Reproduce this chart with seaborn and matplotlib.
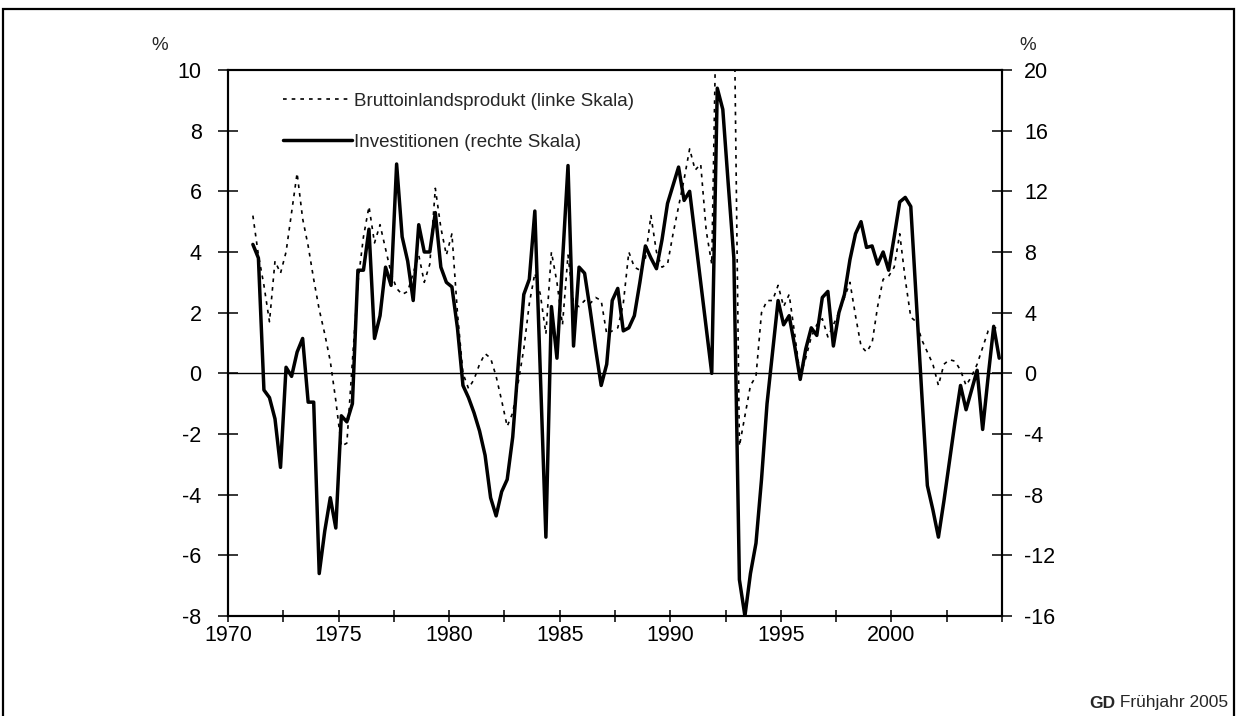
import matplotlib
matplotlib.use("Agg")
import matplotlib.pyplot as plt
from matplotlib.patches import Rectangle
from matplotlib.lines import Line2D
import numpy as np
import pandas as pd
import seaborn as sns

# quarterly year-on-year rates, 1971Q1 .. 2004Q4
first_year = 1971

# Bruttoinlandsprodukt (left scale, %); 1992 values run off the top of the scale
bip = [5.2, 3.9, 2.9, 1.7, 3.7, 3.3, 4.0, 5.3, 6.6, 5.1, 4.2, 3.1,
       2.1, 1.3, 0.4, -0.9, -2.4, -2.3, 0.4, 3.0, 4.5, 5.5, 4.3, 4.9,
       4.1, 3.3, 2.8, 2.6, 2.7, 3.3, 3.9, 3.0, 3.6, 6.1, 4.8, 3.9,
       4.6, 2.0, 0.0, -0.5, -0.2, 0.3, 0.65, 0.5, -0.1, -0.9, -1.75, -1.3,
       -0.3, 0.8, 2.3, 3.3, 2.6, 1.3, 4.0, 3.0, 1.6, 3.9, 2.3, 2.2,
       2.4, 2.3, 2.5, 2.4, 1.3, 1.4, 1.5, 2.3, 4.0, 3.5, 3.4, 3.8,
       5.2, 4.0, 3.5, 3.6, 4.6, 5.5, 6.4, 7.4, 6.7, 6.9, 4.7, 3.6,
       14.0, 15.0, 14.0, 13.0, -2.4, -1.4, -0.4, -0.1, 2.0, 2.4, 2.4, 2.9,
       2.2, 2.6, 1.3, -0.1, 0.5, 1.2, 1.6, 1.8, 1.2, 1.6, 2.0, 2.5,
       3.0, 1.9, 0.9, 0.7, 1.0, 2.2, 3.1, 3.2, 3.5, 4.6, 3.1, 1.85,
       1.7, 1.1, 0.7, 0.3, -0.4, 0.3, 0.45, 0.4, 0.1, -0.4, -0.1, 0.3,
       0.85, 1.4, 1.5, 1.5]

# Investitionen (right scale, %)
investitionen = [8.5, 7.6, -1.1, -1.6, -3.0, -6.2, 0.4, -0.2, 1.4, 2.3, -1.9, -1.9,
                 -13.2, -10.4, -8.2, -10.2, -2.8, -3.2, -2.0, 6.8, 6.8, 9.5, 2.3, 3.8,
                 7.0, 5.8, 13.8, 9.0, 7.4, 4.8, 9.8, 8.0, 8.0, 10.6, 7.0, 6.0,
                 5.7, 3.0, -0.8, -1.6, -2.6, -3.8, -5.4, -8.2, -9.4, -7.8, -7.0, -4.2,
                 0.6, 5.2, 6.2, 10.7, 0.0, -10.8, 4.4, 1.0, 7.4, 13.7, 1.8, 7.0,
                 6.6, 4.2, 1.6, -0.8, 0.6, 4.8, 5.6, 2.8, 3.0, 3.8, 6.0, 8.4,
                 7.6, 6.9, 8.8, 11.2, 12.4, 13.6, 11.4, 12.0, 9.0, 6.0, 3.0, 0.0,
                 18.8, 17.4, 12.4, 7.6, -13.6, -16.0, -13.2, -11.2, -7.0, -2.0, 1.4, 4.8,
                 3.2, 3.8, 1.8, -0.4, 1.6, 3.0, 2.5, 5.0, 5.4, 1.8, 4.0, 5.2,
                 7.5, 9.2, 10.0, 8.3, 8.4, 7.2, 8.0, 6.8, 9.0, 11.3, 11.6, 11.0,
                 4.8, -1.4, -7.4, -9.0, -10.8, -8.4, -5.8, -3.2, -0.8, -2.4, -1.1, 0.2,
                 -3.7, -0.2, 3.1, 1.0]

x_ticks = np.arange(1970, 2005.1, 2.5)
x_labels = [str(int(t)) if t % 5 == 0 and t < 2005 else "" for t in x_ticks]
left_ticks = np.arange(-8, 10.1, 2)
right_ticks = np.arange(-16, 20.1, 4)

df = pd.DataFrame({
    "t": first_year + 0.125 + np.arange(len(bip)) / 4,
    "bip": bip,
    "inv": investitionen,
})

sns.set_style("white")
plt.rcParams["font.family"] = ["Liberation Sans", "DejaVu Sans"]
plt.rcParams["axes.unicode_minus"] = False

fig = plt.figure(figsize=(12.36, 7.16), dpi=100)
ax = fig.add_axes([228 / 1236, 1 - 616 / 716, 774 / 1236, 546 / 716])
ax2 = ax.twinx()

ax.axhline(0, color="black", lw=1.0, zorder=1)

sns.lineplot(data=df, x="t", y="bip", ax=ax, color="black", lw=1.2,
             linestyle=(0, (2.2, 3.0)), zorder=3)
sns.lineplot(data=df, x="t", y="inv", ax=ax2, color="black", lw=2.5, zorder=3)

ax.set_xlim(1970, 2005)
ax.set_ylim(-8, 10)
ax2.set_ylim(-16, 20)

ax.set_xticks(x_ticks)
ax.set_xticklabels(x_labels)
ax.set_yticks(left_ticks)
ax.set_yticklabels([f"{v:g}" for v in left_ticks])
ax2.set_yticks(right_ticks)
ax2.set_yticklabels([f"{v:g}" for v in right_ticks])

ax.set_xlabel("")
ax.set_ylabel("")
ax2.set_ylabel("")

for a in (ax, ax2):
    for s in a.spines.values():
        s.set_visible(True)
        s.set_color("black")
        s.set_linewidth(1.5)

ax.tick_params(axis="y", direction="inout", length=14, width=1.1, labelsize=15.5,
               pad=12, left=True, colors="black")
ax.tick_params(axis="x", direction="inout", length=9, width=1.1, labelsize=15.5,
               pad=2, bottom=True, colors="black")
ax2.tick_params(axis="y", direction="inout", length=14, width=1.1, labelsize=15.5,
                pad=9, right=True, colors="black")

handles = [
    Line2D([], [], color="black", lw=1.2, linestyle=(0, (2.2, 3.0))),
    Line2D([], [], color="black", lw=2.5),
]
ax2.legend(handles, ["Bruttoinlandsprodukt (linke Skala)", "Investitionen (rechte Skala)"],
           loc="upper left", bbox_to_anchor=(0.071, 0.958), frameon=False,
           fontsize=13.5, handlelength=3.7, handletextpad=0.1,
           labelspacing=1.25, borderpad=0, borderaxespad=0)

fig.text(160 / 1236, 1 - 45 / 716, "%", fontsize=13.5, ha="center", va="center")
fig.text(1028 / 1236, 1 - 45 / 716, "%", fontsize=13.5, ha="center", va="center")

# outer frame
fig.patches.append(Rectangle((3 / 1236, -0.05), 1231 / 1236, 0.05 + 1 - 9 / 716,
                             transform=fig.transFigure, fill=False,
                             edgecolor="black", lw=1.6))

renderer = fig.canvas.get_renderer()
tail = fig.text(1228 / 1236, 1 - 703 / 716, " Frühjahr 2005", fontsize=12.5,
                ha="right", va="center")
bb = tail.get_window_extent(renderer=renderer)
fig.text(bb.x0 / fig.bbox.width, 1 - 703 / 716, "GD", fontsize=12.5,
         fontweight="bold", ha="right", va="center")

fig.savefig("out.png", dpi=100)
